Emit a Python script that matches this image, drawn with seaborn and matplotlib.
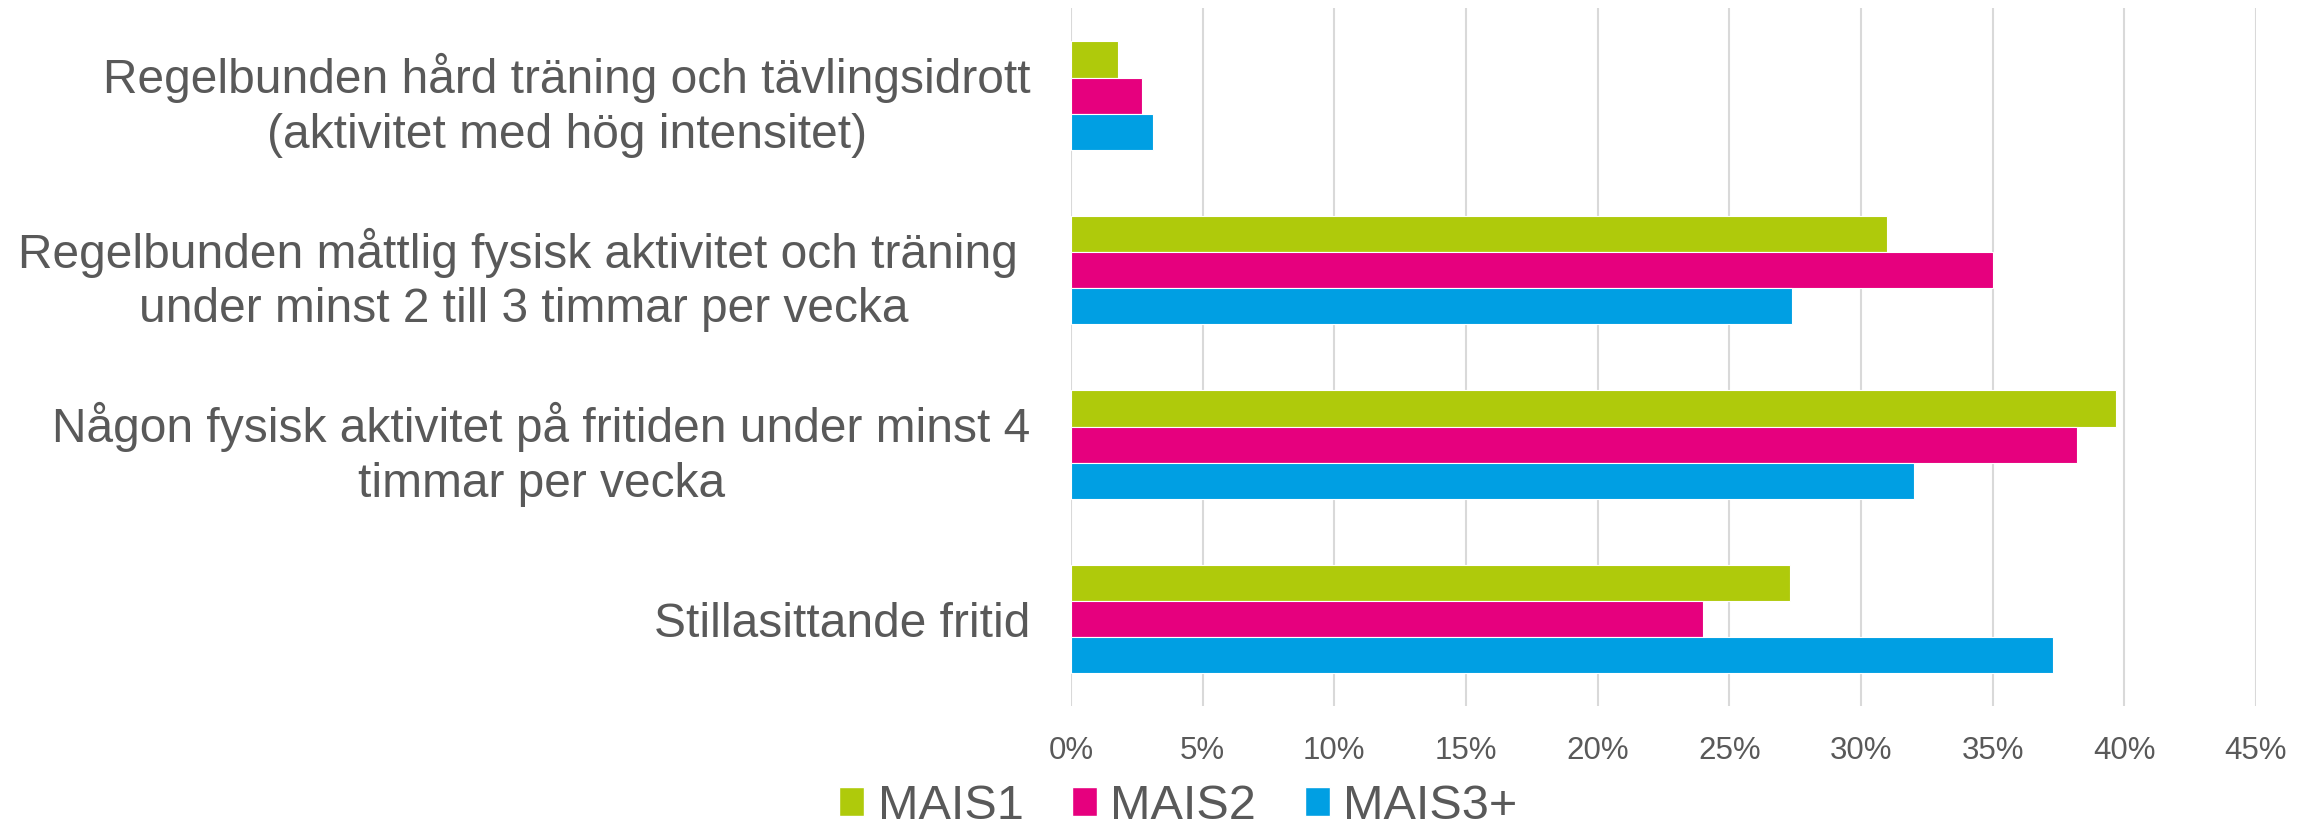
import pandas as pd
import seaborn as sns
import matplotlib.pyplot as plt
from matplotlib.patches import Patch
from matplotlib.ticker import PercentFormatter, MultipleLocator

# categories (top to bottom) and values per group
categories = ["Regelbunden hård träning och tävlingsidrott\n(aktivitet med hög intensitet)",
              "Regelbunden måttlig fysisk aktivitet och träning \nunder minst 2 till 3 timmar per vecka",
              "Någon fysisk aktivitet på fritiden under minst 4\ntimmar per vecka",
              "Stillasittande fritid"]
groups = ["MAIS1", "MAIS2", "MAIS3+"]
mais1 = [0.018, 0.310, 0.397, 0.273]
mais2 = [0.027, 0.350, 0.382, 0.240]
mais3 = [0.031, 0.274, 0.320, 0.373]
colors = ["#AFCA0B", "#E6007E", "#009FE3"]

df = pd.DataFrame({
    "kategori": categories * 3,
    "grupp": [g for g in groups for _ in categories],
    "andel": mais1 + mais2 + mais3,
})

sns.set_style("white")
plt.rcParams["font.family"] = ["Liberation Sans", "DejaVu Sans"]
text_col = "#595959"

fig = plt.figure(figsize=(23.15, 8.31), dpi=100)
ax = fig.add_axes([0.4626, 0.150, 0.5119, 0.840])

sns.barplot(data=df, y="kategori", x="andel", hue="grupp", orient="h",
            palette=colors, width=0.62, errorbar=None, saturation=1,
            edgecolor="white", linewidth=0.8, legend=False, ax=ax)

ax.set_xlim(0, 0.45)
ax.xaxis.set_major_locator(MultipleLocator(0.05))
ax.xaxis.set_major_formatter(PercentFormatter(1.0, decimals=0))
ax.grid(axis="x", color="#D9D9D9", linewidth=1.5)
ax.set_axisbelow(True)
for s in ax.spines.values():
    s.set_visible(False)
ax.set_xlabel("")
ax.set_ylabel("")
ax.tick_params(axis="x", length=0, pad=21, labelsize=22.5, labelcolor=text_col)
ax.tick_params(axis="y", length=0, pad=29, labelsize=34.5, labelcolor=text_col)
for lab in ax.get_yticklabels():
    lab.set_multialignment("center")
    lab.set_linespacing(1.28)

handles = [Patch(facecolor=c, label=g) for g, c in zip(groups, colors)]
fig.legend(handles=handles, loc="center", bbox_to_anchor=(0.509, 0.03), ncol=3,
           frameon=False, fontsize=35, labelcolor=text_col,
           handlelength=0.52, handleheight=0.52, handletextpad=0.27,
           columnspacing=1.0, borderaxespad=0)

fig.savefig("out.png", dpi=100)
